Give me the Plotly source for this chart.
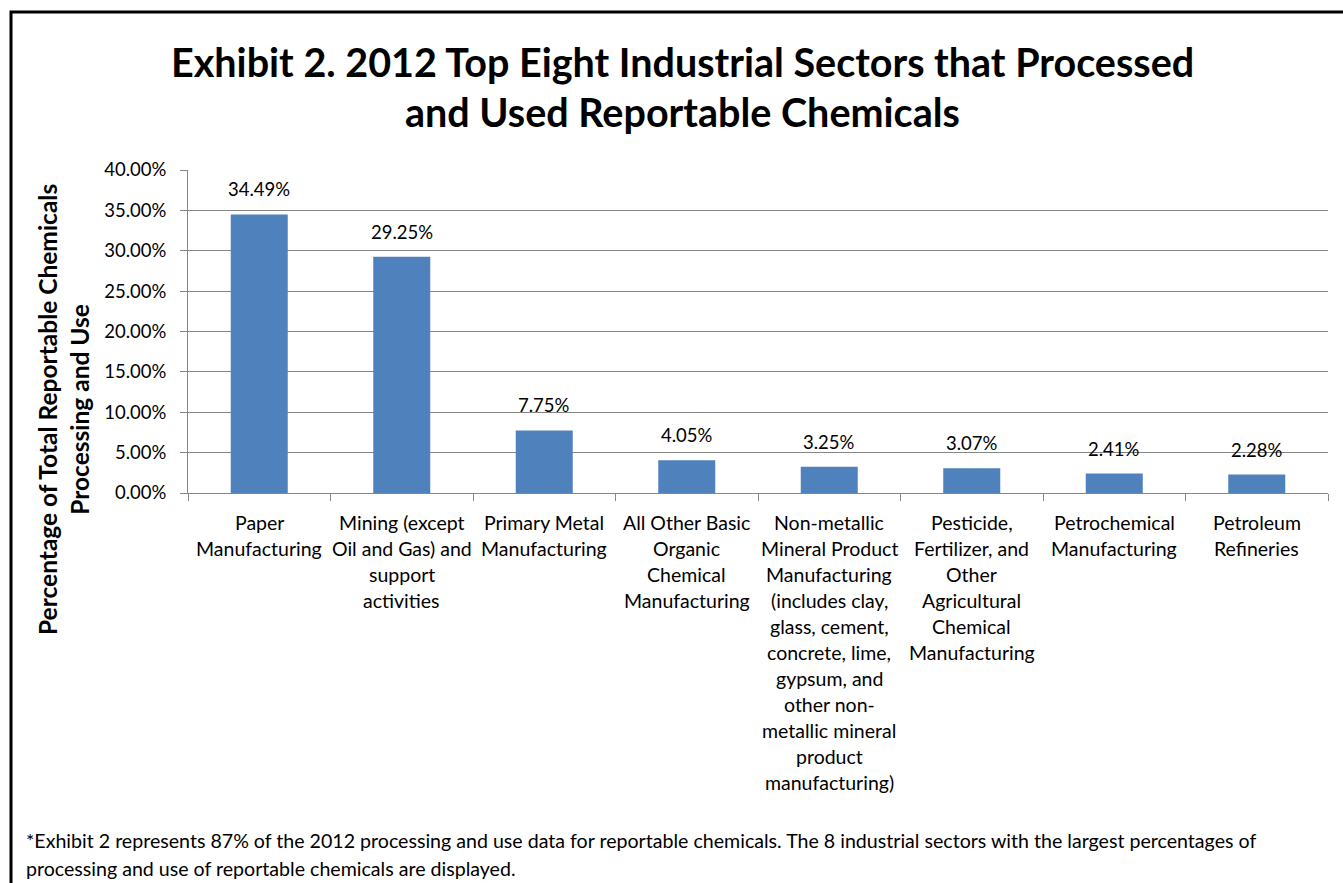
import plotly.graph_objects as go

categories = [
    "Paper Manufacturing",
    "Mining (except Oil and Gas) and support activities",
    "Primary Metal Manufacturing",
    "All Other Basic Organic Chemical Manufacturing",
    "Non-metallic Mineral Product Manufacturing (includes clay, glass, cement, concrete, lime, gypsum, and other non-metallic mineral product manufacturing)",
    "Pesticide, Fertilizer, and Other Agricultural Chemical Manufacturing",
    "Petrochemical Manufacturing",
    "Petroleum Refineries",
]
label_lines = [
    ["Paper", "Manufacturing"],
    ["Mining (except", "Oil and Gas) and", "support", "activities"],
    ["Primary Metal", "Manufacturing"],
    ["All Other Basic", "Organic", "Chemical", "Manufacturing"],
    ["Non-metallic", "Mineral Product", "Manufacturing", "(includes clay,", "glass, cement,",
     "concrete, lime,", "gypsum, and", "other non-", "metallic mineral", "product", "manufacturing)"],
    ["Pesticide,", "Fertilizer, and", "Other", "Agricultural", "Chemical", "Manufacturing"],
    ["Petrochemical", "Manufacturing"],
    ["Petroleum", "Refineries"],
]
values = [34.49, 29.25, 7.75, 4.05, 3.25, 3.07, 2.41, 2.28]
y_ticks = [0, 5, 10, 15, 20, 25, 30, 35, 40]

title_lines = ["Exhibit 2. 2012 Top Eight Industrial Sectors that Processed",
               "and Used Reportable Chemicals"]
y_title = "Percentage of Total Reportable Chemicals<br>Processing and Use"
footnote_lines = [
    "*Exhibit 2 represents 87% of the 2012 processing and use data for reportable chemicals. The 8 industrial sectors with the largest percentages of",
    "processing and use of reportable chemicals are displayed.",
]

W, H = 1343, 883
L, R, T, B = 188, 15, 170, 390
PW, PH = W - L - R, H - T - B
FONT = "Lato"


def px(x):
    return (x - L) / PW


def py(y):
    return (H - B - y) / PH


fig = go.Figure()
fig.add_trace(go.Bar(
    x=categories, y=values,
    marker=dict(color="#4F81BD", line=dict(width=0)),
    hoverinfo="x+y",
))

annotations = []
# data labels
for c, v in zip(categories, values):
    annotations.append(dict(x=c, y=v, xref="x", yref="y", text=f"{v:.2f}%",
                            showarrow=False, yanchor="middle", yshift=25,
                            font=dict(family=FONT, size=18.5, color="#000000")))
# category labels, line by line
for c, lines in zip(categories, label_lines):
    for i, ln in enumerate(lines):
        annotations.append(dict(x=c, y=py(522 + 26 * i), xref="x", yref="paper",
                                text=ln, showarrow=False, yanchor="middle",
                                xanchor="center",
                                font=dict(family=FONT, size=19.5, color="#000000")))
# title
for i, ln in enumerate(title_lines):
    annotations.append(dict(x=px(682), y=py(62 + 50 * i), xref="paper", yref="paper",
                            text=f"<b>{ln}</b>", showarrow=False, yanchor="middle",
                            xanchor="center",
                            font=dict(family=FONT, size=39.5, color="#000000")))
# y axis title
annotations.append(dict(x=px(63), y=py(410), xref="paper", yref="paper",
                        text=f"<b>{y_title}</b>", showarrow=False, textangle=-90,
                        xanchor="center", yanchor="middle",
                        font=dict(family=FONT, size=24.5, color="#000000")))
# footnote
for i, ln in enumerate(footnote_lines):
    annotations.append(dict(x=px(24), y=py(840 + 28 * i), xref="paper", yref="paper",
                            text=ln, showarrow=False, yanchor="middle", xanchor="left",
                            font=dict(family=FONT, size=19.6, color="#000000")))

fig.update_layout(
    width=W, height=H,
    margin=dict(l=L, r=R, t=T, b=B, autoexpand=False),
    paper_bgcolor="white", plot_bgcolor="white",
    bargap=0.6,
    showlegend=False,
    font=dict(family=FONT, size=17, color="#000000"),
    xaxis=dict(
        showticklabels=False, tickson="boundaries", ticks="outside", ticklen=7,
        tickcolor="#868686", showline=True, linecolor="#868686", linewidth=1,
        showgrid=False, zeroline=False,
    ),
    yaxis=dict(
        range=[0, 40], tickvals=y_ticks, ticktext=[f"{t:.2f}%" for t in y_ticks],
        ticks="outside", ticklen=7, tickcolor="#868686", ticklabelstandoff=10,
        showline=True, linecolor="#868686", linewidth=1,
        showgrid=True, gridcolor="#868686", gridwidth=1, zeroline=False,
        tickfont=dict(family=FONT, size=18.5, color="#000000"),
    ),
    annotations=annotations,
    shapes=[dict(type="rect", xref="paper", yref="paper",
                 x0=px(11), x1=px(W + 20), y0=py(12), y1=py(H + 20),
                 line=dict(color="#000000", width=3), fillcolor="rgba(0,0,0,0)",
                 layer="above")],
)

fig.write_html("out.html")
